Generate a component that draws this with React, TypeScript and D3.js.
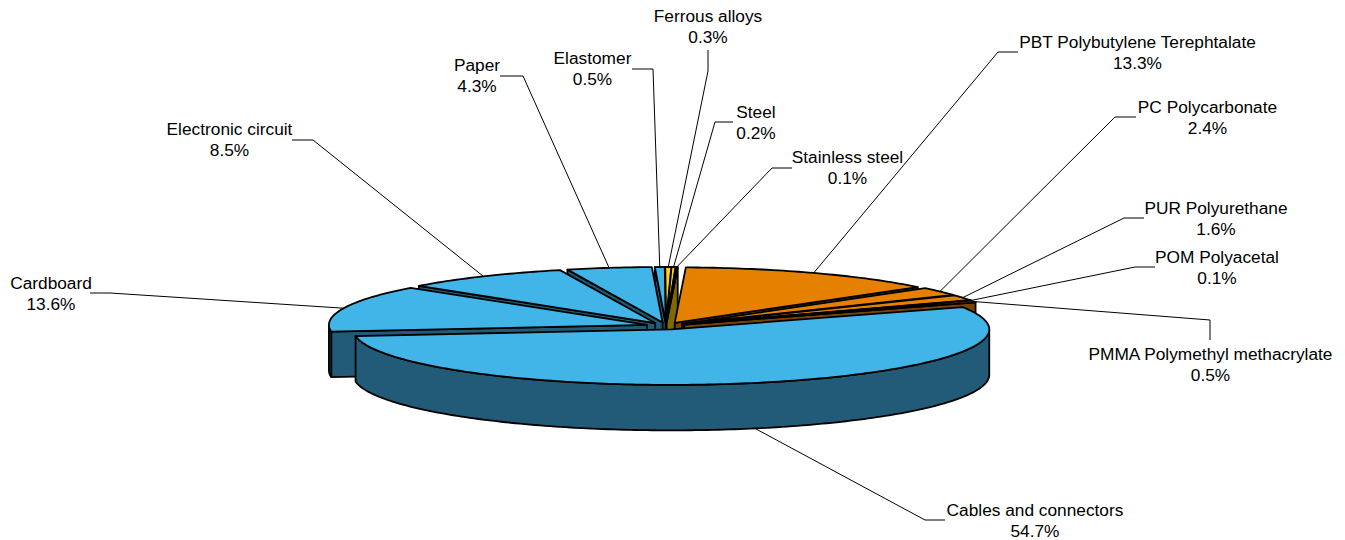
import { line, pie, range } from "d3";

const materials = [
  "PBT Polybutylene Terephtalate",
  "PC Polycarbonate",
  "PUR Polyurethane",
  "POM Polyacetal",
  "PMMA Polymethyl methacrylate",
  "Cables and connectors",
  "Cardboard",
  "Electronic circuit",
  "Paper",
  "Elastomer",
  "Ferrous alloys",
  "Steel",
  "Stainless steel"
];
const shares = [13.3, 2.4, 1.6, 0.1, 0.5, 54.7, 13.6, 8.5, 4.3, 0.5, 0.3, 0.2, 0.1];
const groups = ["orange", "orange", "orange", "orange", "orange", "blue", "blue", "blue", "blue", "blue", "yellow", "yellow", "yellow"];

const topColors: Record<string, string> = { orange: "#E68000", blue: "#41B4E8", yellow: "#FFD21A" };
const wallColors: Record<string, string> = { orange: "#7A4400", blue: "#215B78", yellow: "#806A00" };

// label centre x, first line centre y, then the leader's elbow and its end at the label
const labelSpots: [number, number, number, number, number, number][] = [
  [1137.5, 42, 998, 52, 1018, 52],
  [1207.5, 107, 1115, 117, 1136, 117],
  [1216, 208, 1124, 218, 1144, 218],
  [1217, 257, 1135, 267, 1155, 267],
  [1210.5, 354, 1210, 320, 1210, 340],
  [1035, 510, 925, 520, 945, 520],
  [51, 283, 110, 293, 90, 293],
  [229.5, 129, 313, 140, 292, 140],
  [477, 65, 523, 76, 500, 76],
  [592.5, 58, 653, 69, 632, 69],
  [708, 16, 708, 71, 708, 50],
  [756, 112, 715, 122, 733, 122],
  [847.5, 157, 772, 168, 792, 168]
];

const width = 1345;
const height = 540;
const centerX = 666;
const centerY = 326;
const radiusX = 318;
const radiusY = 55.5;
const depth = 45.5;
const explode = 20;
const startAngle = (2 * Math.PI) / 180;

const pieGen = pie<number>().sort(null).startAngle(startAngle).endAngle(startAngle + 2 * Math.PI);
const arcs = pieGen(shares);
const pathLine = line<[number, number]>();

function center(mid: number): [number, number] {
  return [
    centerX + explode * Math.sin(mid),
    centerY - (explode * Math.cos(mid) * radiusY) / radiusX
  ];
}

function rim(mid: number, angle: number, drop = 0): [number, number] {
  const [x, y] = center(mid);
  return [x + radiusX * Math.sin(angle), y - radiusY * Math.cos(angle) + drop];
}

function sampleAngles(from: number, to: number): number[] {
  const steps = Math.max(2, Math.ceil(((to - from) * 180) / Math.PI));
  return range(steps + 1).map((i) => from + ((to - from) * i) / steps);
}

function topPath(mid: number, from: number, to: number): string {
  const points = [center(mid), ...sampleAngles(from, to).map((a) => rim(mid, a))];
  return `${pathLine(points)}Z`;
}

function sidePath(mid: number, angle: number): string {
  const [x, y] = center(mid);
  const outer = rim(mid, angle);
  return `${pathLine([[x, y], outer, [outer[0], outer[1] + depth], [x, y + depth]])}Z`;
}

// only the front half of the rim has a wall that can be seen
function rimWallPath(mid: number, from: number, to: number): string | null {
  const a = Math.max(from, Math.PI / 2);
  const b = Math.min(to, (3 * Math.PI) / 2);
  if (b <= a) {
    return null;
  }
  const angles = sampleAngles(a, b);
  const points = [
    ...angles.map((t) => rim(mid, t)),
    ...angles.slice().reverse().map((t) => rim(mid, t, depth))
  ];
  return `${pathLine(points)}Z`;
}

const slices = arcs.map((arc, index) => {
  const mid = (arc.startAngle + arc.endAngle) / 2;
  return { index, mid, from: arc.startAngle, to: arc.endAngle, group: groups[index] };
});
const paintOrder = slices.slice().sort((a, b) => Math.cos(b.mid) - Math.cos(a.mid));

export default function App(): React.JSX.Element {
  return (
    <svg
      width={width}
      height={height}
      viewBox={`0 0 ${width} ${height}`}
      style={{ position: "absolute", left: 0, top: 0 }}
    >
      <rect width={width} height={height} fill="#fff" />
      {paintOrder.map((s) => {
        const wall = rimWallPath(s.mid, s.from, s.to);
        return (
          <g key={s.index} stroke="#000" strokeWidth={1.8} strokeLinejoin="round">
            {Math.sin(s.from) < 0 ? <path d={sidePath(s.mid, s.from)} fill={wallColors[s.group]} /> : null}
            {Math.sin(s.to) > 0 ? <path d={sidePath(s.mid, s.to)} fill={wallColors[s.group]} /> : null}
            {wall !== null ? <path d={wall} fill={wallColors[s.group]} /> : null}
            <path d={topPath(s.mid, s.from, s.to)} fill={topColors[s.group]} />
          </g>
        );
      })}
      {slices.map((s) => {
        const [labelX, labelY, elbowX, elbowY, endX, endY] = labelSpots[s.index];
        const front = Math.cos(s.mid) < 0;
        const anchor = rim(s.mid, s.mid, front ? depth : 0);
        return (
          <g key={materials[s.index]}>
            <path
              d={pathLine([anchor, [elbowX, elbowY], [endX, endY]]) ?? ""}
              fill="none"
              stroke="#000"
              strokeWidth={1}
            />
            <text
              x={labelX}
              textAnchor="middle"
              fontFamily="'Liberation Sans', Arial, sans-serif"
              fontSize={17.3}
              fill="#000"
            >
              <tspan x={labelX} y={labelY + 6}>{materials[s.index]}</tspan>
              <tspan x={labelX} y={labelY + 27}>{`${shares[s.index].toFixed(1)}%`}</tspan>
            </text>
          </g>
        );
      })}
    </svg>
  );
}
